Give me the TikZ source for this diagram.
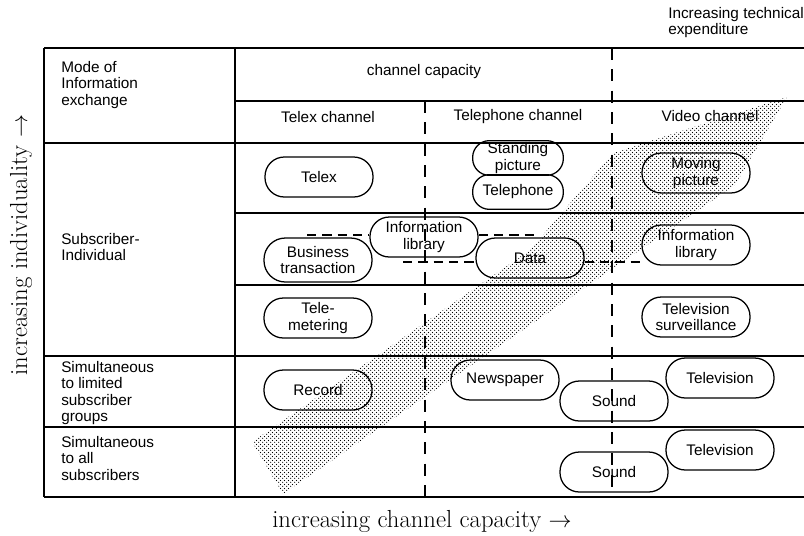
\documentclass[tikz,border=0pt]{standalone}
\usepackage{fontspec}
\newfontfamily\figsans{Liberation Sans}
\usetikzlibrary{patterns}

% fine diagonal dot screen for the broad arrow
\pgfdeclarepatternformonly{stipple}{\pgfqpoint{-0.6pt}{-0.6pt}}{\pgfqpoint{2.6pt}{2.6pt}}{\pgfqpoint{3.2pt}{3.2pt}}{%
  \pgfpathcircle{\pgfqpoint{0pt}{0pt}}{0.52pt}%
  \pgfpathcircle{\pgfqpoint{1.6pt}{1.6pt}}{0.52pt}%
  \pgfusepath{fill}}

\tikzset{
  rule/.style={line width=0.9pt},
  coldash/.style={line width=0.9pt, dash pattern=on 9pt off 7pt},
  linkdash/.style={line width=0.9pt, dash pattern=on 7pt off 4.5pt},
  pill/.style={draw, line width=0.95pt, align=center, inner sep=0pt,
    minimum width=81pt, minimum height=30pt, rounded corners=14.5pt},
  pillsmall/.style={minimum width=68pt, minimum height=26pt, rounded corners=12.5pt},
  rowlabel/.style={anchor=north west, align=left, inner sep=0pt},
  axislabel/.style={font=\rmfamily\fontsize{18.5}{22}\selectfont, inner sep=0pt}
}

\begin{document}
\begin{tikzpicture}[x=0.75pt, y=-0.75pt, font=\figsans\fontsize{11.5}{12.4}\selectfont]
\useasboundingbox (0,0) rectangle (804,536);

% broad arrow: increasing technical expenditure
\fill[pattern=stipple, pattern color=black]
  (252,442) -- (283,494) -- (735,185) -- (787,97) -- (613,153) -- (530,250) -- cycle;

% table frame
\draw[rule] (44,48) -- (804,48);
\draw[rule] (235,101) -- (804,101);
\draw[rule] (44,143) -- (804,143);
\draw[rule] (235,213) -- (804,213);
\draw[rule] (235,285) -- (804,285);
\draw[rule] (44,356) -- (804,356);
\draw[rule] (44,427) -- (804,427);
\draw[rule] (44,497) -- (804,497);
\draw[rule] (44,48) -- (44,497);
\draw[rule] (235,48) -- (235,497);
\draw[coldash] (425,101) -- (425,497);
\draw[coldash] (612,48) -- (612,497);

% headings
\node (exp) [anchor=north west, align=left, inner sep=0pt] at (668,7) {Increasing technical\\expenditure};
\node (cap) at (424,72) {channel capacity};
\node (telexch) at (328,117) {Telex channel};
\node (phonech) at (518,117) {Telephone channel};
\node (videoch) at (710,116) {Video channel};

% row labels
\node (mode) [rowlabel] at (61,61) {Mode of\\Information\\exchange};
\node (indiv) [rowlabel] at (61,233) {Subscriber-\\Individual};
\node (limited) [rowlabel] at (61,361) {Simultaneous\\to limited\\subscriber\\groups};
\node (all) [rowlabel] at (61,436) {Simultaneous\\to all\\subscribers};

% services
\node[pill] (telex) at (319,177) {Telex};
\node[pill, pillsmall] (stand) at (518,158) {Standing\\picture};
\node[pill, pillsmall] (phone) at (518,192) {Telephone};
\node[pill] (ilibA) at (424,237) {Information\\library};
\node[pill, minimum height=33pt, rounded corners=16pt] (biz) at (318,260) {Business\\transaction};
\node[pill] (data) at (530,258) {Data};
\node[pill] (movie) at (696,173) {Moving\\picture};
\node[pill] (ilibB) at (696,245) {Information\\library};
\node[pill] (telem) at (318,318) {Tele-\\metering};
\node[pill] (tvsurv) at (696,317) {Television\\surveillance};
\node[pill] (record) at (318,390) {Record};
\node[pill] (news) at (505,380) {Newspaper};
\node[pill] (soundA) at (614,401) {Sound};
\node[pill] (tvA) at (720,378) {Television};
\node[pill] (tvB) at (720,450) {Television};
\node[pill] (soundB) at (614,472) {Sound};

% dashed links between the information services
\coordinate (upL) at (307,235);
\coordinate (upR) at (537,235);
\coordinate (loL) at (403,262);
\draw[linkdash] (upL) -- (upL -| ilibA.west);
\draw[linkdash] (ilibA.east |- upR) -- (upR);
\draw[linkdash] (loL) -- (loL -| data.west);
\draw[linkdash] (data.east |- loL) -- (loL -| ilibB.west);

% axis captions
\node[axislabel, rotate=90] (ylab) at (21,245) {increasing individuality $\rightarrow$};
\node[axislabel] (xlab) at (422,521) {increasing channel capacity $\rightarrow$};
\end{tikzpicture}
\end{document}
